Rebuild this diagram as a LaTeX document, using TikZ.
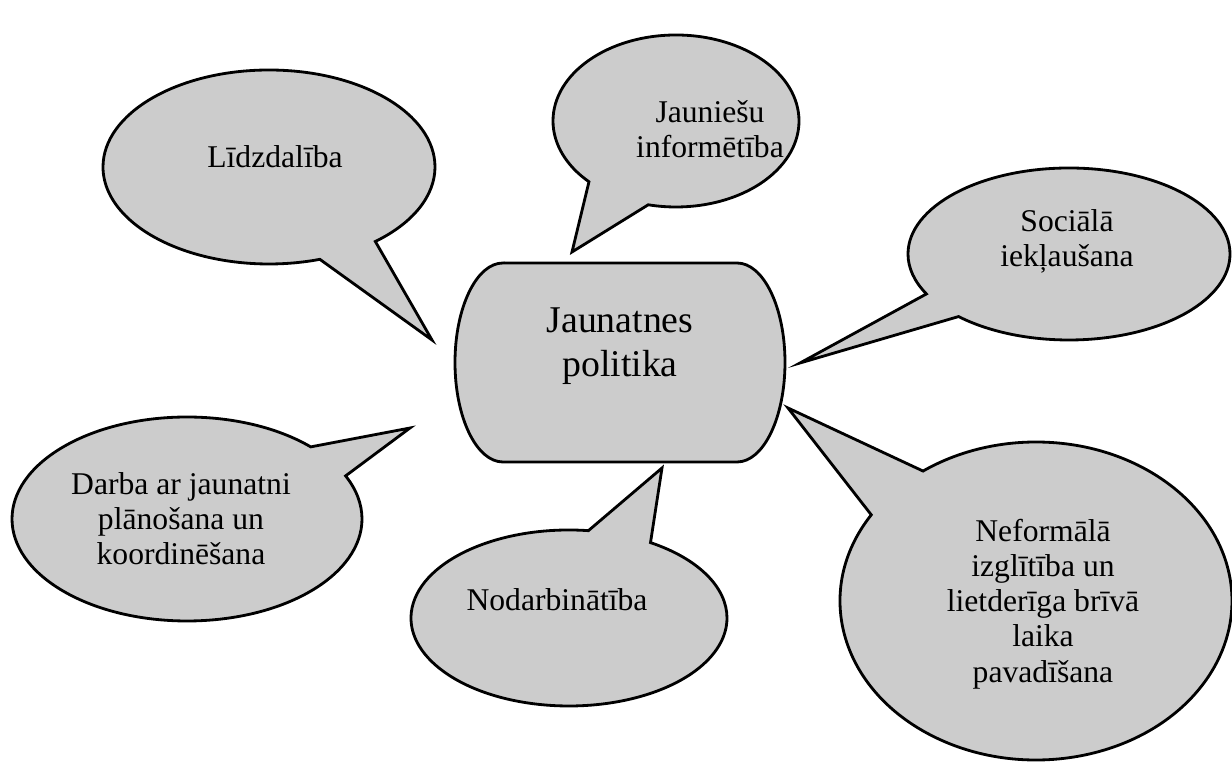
\documentclass[tikz,border=0pt]{standalone}
\usepackage{fontspec}
\setmainfont{Liberation Serif}
\usetikzlibrary{shapes.callouts}

\tikzset{
    bubble/.style = {ellipse callout, draw = black, line width = 1.6pt, fill = black!20, inner sep = 0pt},
    bubbletext/.style = {align = center, font = \fontsize{18}{20}\selectfont},
}

\begin{document}
\begin{tikzpicture}
            \useasboundingbox (0, 0) rectangle (24.64, 15.24);

            % tips of the bubbles
            \coordinate (tip_lidz) at (8.64, 8.44);
            \coordinate (tip_info) at (11.44, 10.20);
            \coordinate (tip_soc) at (16.00, 7.98);
            \coordinate (tip_darba) at (8.20, 6.68);
            \coordinate (tip_nodarb) at (13.24, 5.88);
            \coordinate (tip_neform) at (15.76, 7.08);

            % central box
            \draw[black, line width = 1.6pt, fill = black!20] (10.06, 9.98) -- (14.74, 9.98)
                arc[start angle = 90, end angle = -90, x radius = 0.96, y radius = 1.99] -- (10.06, 6.00)
                arc[start angle = 270, end angle = 90, x radius = 0.96, y radius = 1.99] -- cycle;
            \node[align = center, font = \fontsize{21.5}{25}\selectfont] (politika) at (12.40, 8.32) {Jaunatnes\\politika};

            \node[bubble, minimum width = 6.64cm, minimum height = 3.88cm, callout absolute pointer = {(tip_lidz)}, callout pointer arc = 22] (lidz) at (5.38, 11.90) {};
            \node[bubbletext] (lidz_text) at (5.50, 12.10) {Līdzdalība};

            \node[bubble, minimum width = 4.92cm, minimum height = 3.44cm, callout absolute pointer = {(tip_info)}, callout pointer arc = 32] (info) at (13.52, 12.82) {};
            \node[bubbletext] (info_text) at (14.20, 12.65) {Jauniešu\\informētība};

            \node[bubble, minimum width = 6.44cm, minimum height = 3.44cm, callout absolute pointer = {(tip_soc)}, callout pointer arc = 19] (soc) at (21.38, 10.16) {};
            \node[bubbletext] (soc_text) at (21.34, 10.42) {Sociālā\\iekļaušana};

            \node[bubble, minimum width = 7.00cm, minimum height = 4.08cm, callout absolute pointer = {(tip_darba)}, callout pointer arc = 20] (darba) at (3.74, 4.86) {};
            \node[bubbletext] (darba_text) at (3.62, 4.86) {Darba ar jaunatni\\plānošana un\\koordinēšana};

            \node[bubble, minimum width = 6.32cm, minimum height = 3.52cm, callout absolute pointer = {(tip_nodarb)}, callout pointer arc = 24] (nodarb) at (11.38, 2.88) {};
            \node[bubbletext] (nodarb_text) at (11.14, 3.24) {Nodarbinātība};

            \node[bubble, minimum width = 7.84cm, minimum height = 6.36cm, callout absolute pointer = {(tip_neform)}, callout pointer arc = 22] (neform) at (20.72, 3.22) {};
            \node[bubbletext] (neform_text) at (20.86, 3.16) {Neformālā\\izglītība un\\lietderīga brīvā\\laika\\pavadīšana};
        \end{tikzpicture}
\end{document}
